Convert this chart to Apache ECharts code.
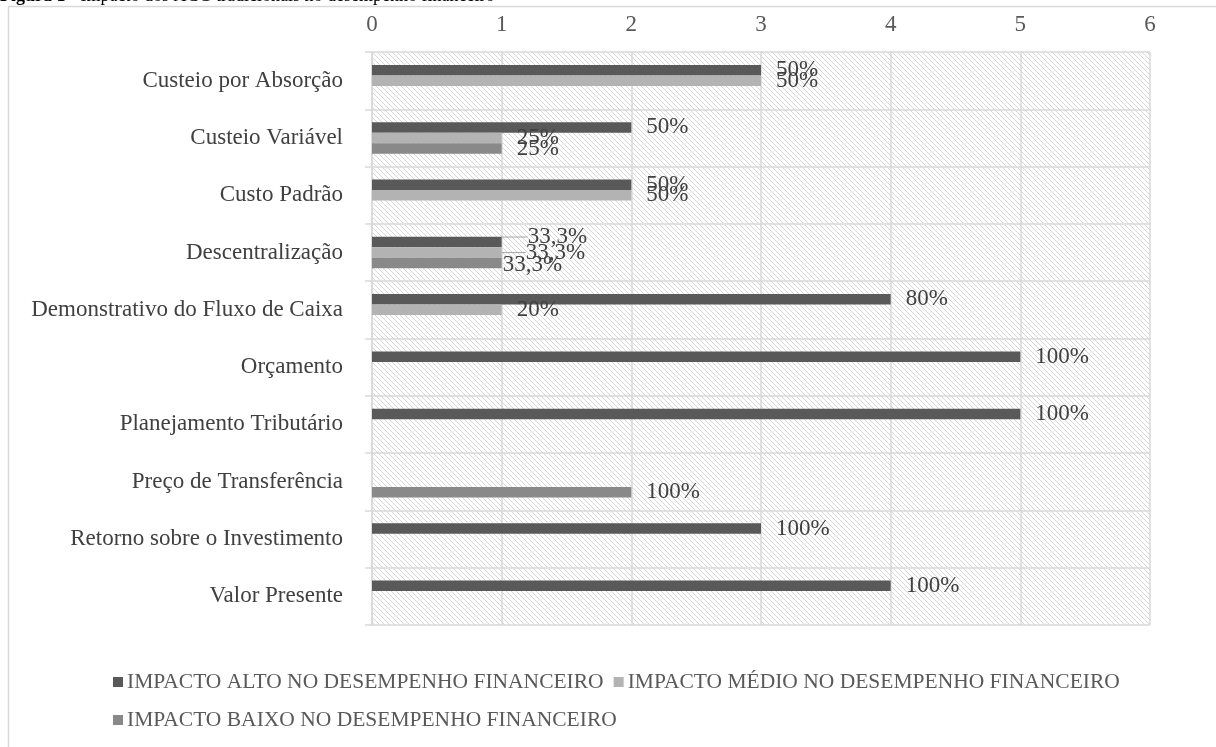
<!DOCTYPE html>
<html>
<head>
<meta charset="utf-8">
<script src="https://cdn.jsdelivr.net/npm/echarts@6/dist/echarts.min.js"></script>
<style>
  html, body { margin: 0; padding: 0; background: #ffffff; }
  #chart { width: 1216px; height: 747px; }
</style>
</head>
<body>
<div id="chart"></div>
<script>
// Artefatos de contabilidade gerencial (ACG) e número de respostas por nível de impacto
const categories = [
  'Custeio por Absorção',
  'Custeio Variável',
  'Custo Padrão',
  'Descentralização',
  'Demonstrativo do Fluxo de Caixa',
  'Orçamento',
  'Planejamento Tributário',
  'Preço de Transferência',
  'Retorno sobre o Investimento',
  'Valor Presente'
];
const seriesNames = [
  'IMPACTO ALTO NO DESEMPENHO FINANCEIRO',
  'IMPACTO MÉDIO NO DESEMPENHO FINANCEIRO',
  'IMPACTO BAIXO NO DESEMPENHO FINANCEIRO'
];
const impactoAlto  = [3, 2, 2, 1, 4, 5, 5, 0, 3, 4];
const impactoMedio = [3, 1, 2, 1, 1, 0, 0, 0, 0, 0];
const impactoBaixo = [0, 1, 0, 1, 0, 0, 0, 2, 0, 0];
const xTicks = [0, 1, 2, 3, 4, 5, 6];

const seriesValues = [impactoAlto, impactoMedio, impactoBaixo];
const seriesColors = ['#595959', '#b3b3b3', '#898989'];

// total de respostas por artefato, base dos percentuais
const totals = categories.map((_, i) => seriesValues.reduce((s, arr) => s + arr[i], 0));

function pctLabel(value, idx) {
  if (!value) return '';
  const p = value / totals[idx] * 100;
  const txt = Number.isInteger(p) ? String(p) : p.toFixed(1).replace('.', ',');
  return txt + '%';
}

// padrão hachurado do fundo da área de plotagem
function hatchCanvas() {
  const n = 5;
  const c = document.createElement('canvas');
  c.width = n; c.height = n;
  const g = c.getContext('2d');
  g.fillStyle = '#ffffff';
  g.fillRect(0, 0, n, n);
  g.strokeStyle = '#d6d6d6';
  g.lineWidth = 1;
  g.beginPath();
  g.moveTo(-1, -1); g.lineTo(n + 1, n + 1);
  g.moveTo(-1, n - 1); g.lineTo(1, n + 1);
  g.moveTo(n - 1, -1); g.lineTo(n + 1, 1);
  g.stroke();
  return c;
}

const GRID = { left: 372, right: 66, top: 52, bottom: 122 };
const serif = '"Liberation Serif", "Times New Roman", serif';

// Descentralização (índice 3): rótulos afastados, com linha guia nos dois primeiros
const SPREAD_IDX = 3;
const labelShift = { 0: { dx: 11, dy: -5 }, 1: { dx: 9, dy: 0 }, 2: { dx: -14, dy: 2 } };

function seriesData(vals, s) {
  return vals.map((v, i) => (i === SPREAD_IDX && s < 2 ? { value: v, labelLine: { show: true } } : v));
}

const chart = echarts.init(document.getElementById('chart'), null, { renderer: 'canvas' });

chart.setOption({
  backgroundColor: '#ffffff',
  animation: false,
  textStyle: { fontFamily: serif },
  graphic: [
    {
      type: 'rect',
      silent: true,
      z: -10,
      shape: { x: 8.5, y: 6.5, width: 1230, height: 760 },
      style: { fill: '#ffffff', stroke: '#d9d9d9', lineWidth: 1.5 }
    },
    {
      type: 'rect',
      silent: true,
      z: -5,
      shape: { x: GRID.left, y: GRID.top, width: 1216 - GRID.left - GRID.right, height: 747 - GRID.top - GRID.bottom },
      style: { fill: { image: hatchCanvas(), repeat: 'repeat' } }
    },
    {
      type: 'text',
      silent: true,
      x: 0,
      y: 5,
      z: 10,
      style: {
        text: '{b|Figura 1} - Impacto dos ACG tradicionais no desempenho financeiro',
        font: '18px ' + serif,
        fill: '#000000',
        verticalAlign: 'bottom',
        rich: { b: { fontWeight: 'bold', fontSize: 18, fontFamily: serif, fill: '#000000' } }
      }
    }
  ],
  grid: { left: GRID.left, right: GRID.right, top: GRID.top, bottom: GRID.bottom, containLabel: false },
  legend: {
    left: 108,
    top: 663,
    width: 1060,
    icon: 'rect',
    itemWidth: 10,
    itemHeight: 10,
    itemGap: 10,
    data: seriesNames,
    textStyle: { fontFamily: serif, fontSize: 21.5, color: '#595959', lineHeight: 28, padding: [0, 0, 0, -1] }
  },
  xAxis: {
    type: 'value',
    position: 'top',
    min: xTicks[0],
    max: xTicks[xTicks.length - 1],
    interval: 1,
    axisLine: { show: false },
    axisTick: { show: false },
    axisLabel: { fontFamily: serif, fontSize: 23, color: '#595959', margin: 16 },
    splitLine: { show: true, lineStyle: { color: '#d9d9d9', width: 1.5 } }
  },
  yAxis: {
    type: 'category',
    inverse: true,
    data: categories,
    axisLine: { show: true, lineStyle: { color: '#d9d9d9', width: 1.5 } },
    axisTick: { show: true, length: 7, lineStyle: { color: '#d9d9d9', width: 1.5 } },
    splitLine: { show: true, lineStyle: { color: '#d9d9d9', width: 1.5 } },
    axisLabel: { fontFamily: serif, fontSize: 23, color: '#404040', margin: 29 }
  },
  series: seriesValues.map((vals, s) => ({
    name: seriesNames[s],
    type: 'bar',
    data: seriesData(vals, s),
    barGap: '0%',
    barCategoryGap: '45%',
    itemStyle: { color: seriesColors[s] },
    label: {
      show: true,
      position: 'right',
      distance: 15,
      fontFamily: serif,
      fontSize: 23,
      color: '#404040',
      formatter: (p) => pctLabel(p.value, p.dataIndex)
    },
    labelLine: { show: false, lineStyle: { color: '#a6a6a6', width: 1 } },
    labelLayout: (p) => (p.dataIndex === SPREAD_IDX ? labelShift[s] : {})
  }))
});
</script>
</body>
</html>
